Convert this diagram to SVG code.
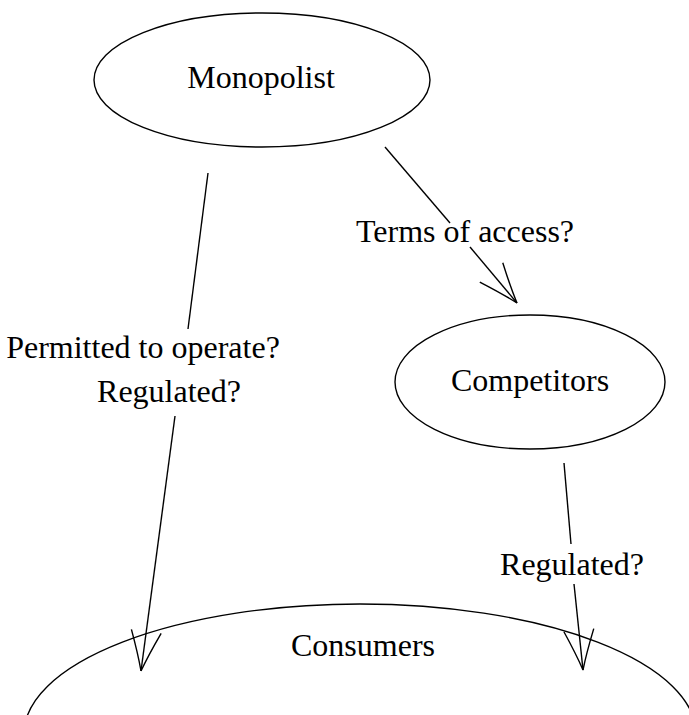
<svg xmlns="http://www.w3.org/2000/svg" width="689" height="715" viewBox="0 0 689 715">
<style>
.node{fill:none;stroke:#000;stroke-width:1.4}
.lbl{font-family:'Liberation Serif','Times New Roman',Tinos,'DejaVu Serif','Noto Serif',Times,serif;font-size:32px;fill:#000;text-anchor:middle}
.edge{fill:none;stroke:#000;stroke-width:1.4}
</style>
<defs>
<marker id="ah" markerUnits="userSpaceOnUse" viewBox="-42 -18 44 36" refX="0" refY="0" markerWidth="44" markerHeight="36" orient="auto" overflow="visible">
<path d="M -40 -15 Q -16 -5 0 0 M -40 15 Q -16 5 0 0" fill="none" stroke="#000" stroke-width="1.4"/>
</marker>
</defs>
<rect width="689" height="715" fill="#fff"/>
<g id="monopolist">
<ellipse class="node" cx="262" cy="80" rx="168" ry="67"/>
<text class="lbl" x="261" y="88" font-family="Liberation Serif, serif">Monopolist</text>
</g>
<g id="competitors">
<ellipse class="node" cx="530" cy="382" rx="135" ry="67"/>
<text class="lbl" x="530" y="391" font-family="Liberation Serif, serif">Competitors</text>
</g>
<g id="consumers">
<ellipse class="node" cx="360" cy="734" rx="336" ry="130"/>
<text class="lbl" x="363" y="656" font-family="Liberation Serif, serif">Consumers</text>
</g>
<g id="connectors">
<line class="edge" x1="385" y1="147" x2="450" y2="223"/>
<line class="edge" x1="470" y1="247" x2="517" y2="303" marker-end="url(#ah)"/>
<text class="lbl" x="465" y="242" font-family="Liberation Serif, serif">Terms of access?</text>
<line class="edge" x1="208" y1="173" x2="188" y2="329"/>
<line class="edge" x1="175" y1="416" x2="141" y2="671" marker-end="url(#ah)"/>
<text class="lbl" x="143" y="358" font-family="Liberation Serif, serif">Permitted to operate?</text>
<text class="lbl" x="169" y="402" font-family="Liberation Serif, serif">Regulated?</text>
<line class="edge" x1="564" y1="463" x2="571" y2="544"/>
<line class="edge" x1="574" y1="584" x2="583" y2="670" marker-end="url(#ah)"/>
<text class="lbl" x="572" y="575" font-family="Liberation Serif, serif">Regulated?</text>
</g>
</svg>
